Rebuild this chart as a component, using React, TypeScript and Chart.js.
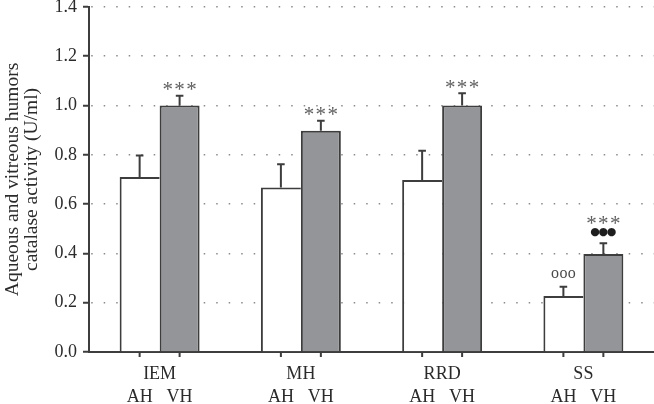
import { useEffect, useRef } from "react";
import { Chart, registerables } from "chart.js";

Chart.register(...registerables);

const categories = ["IEM", "MH", "RRD", "SS"];
const seriesNames = ["AH", "VH"];
const ahValues = [0.71, 0.667, 0.698, 0.227];
const vhValues = [1.0, 0.898, 1.0, 0.398];
const ahErrors = [0.087, 0.095, 0.118, 0.038];
const vhErrors = [0.04, 0.04, 0.05, 0.043];
const ahMarks: string[][] = [[], [], [], ["ooo"]];
const vhMarks: string[][] = [["***"], ["***"], ["***"], ["●●●", "***"]];
const yTickValues = [0, 0.2, 0.4, 0.6, 0.8, 1.0, 1.2, 1.4];

const FONT = '"Liberation Serif", "Times New Roman", "DejaVu Serif", serif';
const DARK = "#3d3d3d";
const TEXT = "#2b2b2b";

function drawMark(ctx: CanvasRenderingContext2D, mark: string, cx: number, cy: number) {
  const chars = Array.from(mark);
  ctx.save();
  ctx.textAlign = "center";
  ctx.textBaseline = "alphabetic";
  if (chars[0] === "*") {
    ctx.font = `21px ${FONT}`;
    ctx.fillStyle = "#606060";
    chars.forEach((c, k) => ctx.fillText(c, cx + (k - 1) * 11.8, cy + 10.5));
  } else if (chars[0] === "o") {
    ctx.font = `16px ${FONT}`;
    ctx.fillStyle = "#4a4a4a";
    chars.forEach((c, k) => ctx.fillText(c, cx + (k - 1) * 8.3, cy + 3.6));
  } else {
    ctx.font = `11px "DejaVu Sans", sans-serif`;
    ctx.fillStyle = "#1e1e1e";
    chars.forEach((c, k) => ctx.fillText(c, cx + (k - 1) * 8.2, cy + 3.8));
  }
  ctx.restore();
}

const extrasPlugin = {
  id: "extras",
  afterDatasetsDraw(chart: any) {
    const ctx: CanvasRenderingContext2D = chart.ctx;
    const ys = chart.scales.y;
    const xs = chart.scales.x;
    chart.data.datasets.forEach((ds: any, di: number) => {
      const meta = chart.getDatasetMeta(di);
      meta.data.forEach((bar: any, i: number) => {
        const topPx = ys.getPixelForValue(ds.data[i] + ds.errors[i]);
        ctx.save();
        ctx.strokeStyle = DARK;
        ctx.lineWidth = 2;
        ctx.beginPath();
        ctx.moveTo(bar.x, bar.y);
        ctx.lineTo(bar.x, topPx);
        ctx.moveTo(bar.x - 3.8, topPx);
        ctx.lineTo(bar.x + 3.8, topPx);
        ctx.moveTo(bar.x, xs.top);
        ctx.lineTo(bar.x, xs.top + 5);
        ctx.stroke();
        ctx.restore();

        let cy = topPx;
        ds.marks[i].forEach((m: string, k: number) => {
          cy -= k === 0 ? (m[0] === "*" ? 10 : 12) : 12;
          drawMark(ctx, m, bar.x, cy);
        });

        ctx.save();
        ctx.font = `18px ${FONT}`;
        ctx.fillStyle = TEXT;
        ctx.textAlign = "center";
        ctx.textBaseline = "middle";
        ctx.fillText(seriesNames[di], bar.x, xs.top + 45);
        ctx.restore();
      });
    });
  },
};

export default function App() {
  const ref = useRef<HTMLCanvasElement | null>(null);
  useEffect(() => {
    if (!ref.current) return;
    const chart = new Chart(ref.current, {
      type: "bar",
      data: {
        labels: categories,
        datasets: [
          {
            label: seriesNames[0],
            data: ahValues,
            errors: ahErrors,
            marks: ahMarks,
            backgroundColor: "#ffffff",
            borderColor: DARK,
            borderWidth: { top: 2, left: 2, right: 0, bottom: 0 },
            borderSkipped: false,
          } as any,
          {
            label: seriesNames[1],
            data: vhValues,
            errors: vhErrors,
            marks: vhMarks,
            backgroundColor: "#939598",
            borderColor: DARK,
            borderWidth: { top: 2, left: 2, right: 2, bottom: 0 },
            borderSkipped: false,
          } as any,
        ],
      },
      options: {
        animation: false,
        responsive: true,
        maintainAspectRatio: false,
        layout: { padding: 0 },
        datasets: { bar: { categoryPercentage: 0.566, barPercentage: 1 } },
        plugins: { legend: { display: false }, tooltip: { enabled: false } },
        scales: {
          x: {
            type: "category",
            grid: { display: false, drawTicks: false },
            border: { display: true, color: DARK, width: 2 },
            ticks: { font: { family: FONT, size: 18, lineHeight: 1.2 }, color: TEXT, padding: 11 },
            afterFit: (s: any) => { s.height = 52; },
          },
          y: {
            min: 0,
            max: 1.4,
            afterBuildTicks: (s: any) => { s.ticks = yTickValues.map((v) => ({ value: v })); },
            ticks: {
              font: { family: FONT, size: 18, lineHeight: 0.1 },
              color: TEXT,
              padding: 6,
              callback: (v: any) => Number(v).toFixed(1),
            },
            grid: {
              color: "#8a8a8a",
              lineWidth: 1.5,
              drawTicks: true,
              tickLength: 6,
              tickColor: DARK,
              tickWidth: 2,
              tickBorderDash: [],
            } as any,
            border: { display: true, color: DARK, width: 2, dash: [1.5, 11], dashOffset: 11.3 },
            title: {
              display: true,
              text: ["Aqueous and vitreous humors", "catalase activity (U/ml)"],
              font: { family: FONT, size: 19.5, lineHeight: 1.0 },
              color: TEXT,
              padding: { top: 3, bottom: 0 },
            },
            afterFit: (s: any) => { s.width = 89; },
          },
        },
      },
      plugins: [extrasPlugin],
    } as any);
    return () => chart.destroy();
  }, []);
  return (
    <div style={{ position: "absolute", left: 0, top: 0, width: 654, height: 404 }}>
      <canvas ref={ref} />
    </div>
  );
}
